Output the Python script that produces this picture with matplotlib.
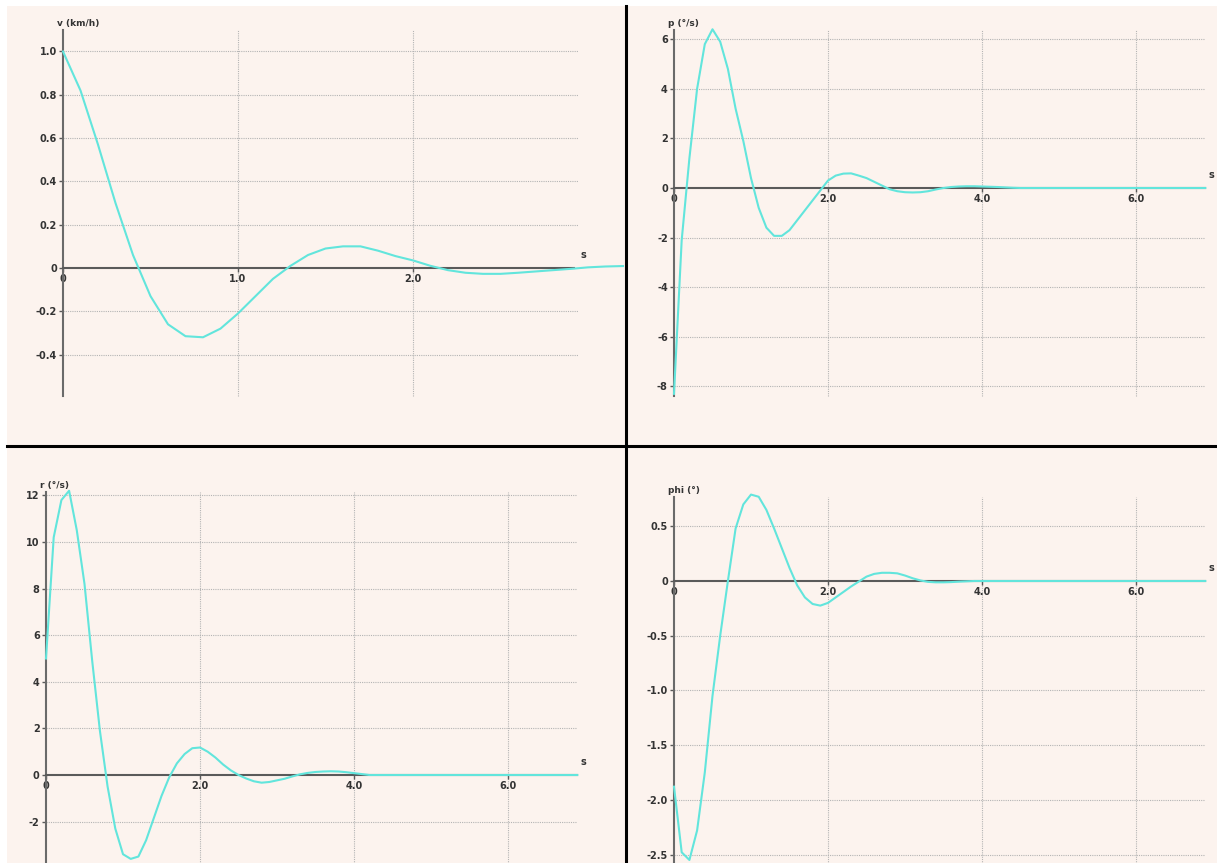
import numpy as np
import matplotlib.pyplot as plt
from matplotlib.lines import Line2D

W, H = 1217, 863

# lateral response, sampled every 0.1 s
t_v = [0.0, 0.1, 0.2, 0.3, 0.4, 0.5, 0.6, 0.7, 0.8, 0.9, 1.0, 1.1, 1.2, 1.3, 1.4, 1.5,
       1.6, 1.7, 1.8, 1.9, 2.0, 2.1, 2.2, 2.3, 2.4, 2.5, 2.6, 2.7, 2.8, 2.9, 3.0, 3.1, 3.2]
v = [1.0, 0.82, 0.57, 0.30, 0.06, -0.13, -0.26, -0.315, -0.32, -0.28, -0.21, -0.13, -0.05,
     0.01, 0.06, 0.09, 0.10, 0.10, 0.08, 0.055, 0.035, 0.01, -0.01, -0.022, -0.027, -0.027,
     -0.022, -0.016, -0.01, -0.004, 0.003, 0.007, 0.009]

t = [round(0.1 * i, 1) for i in range(70)]

p = [-8.3, -2.1, 1.2, 4.0, 5.8, 6.4, 5.9, 4.8, 3.2, 1.9,
     0.4, -0.8, -1.6, -1.93, -1.93, -1.7, -1.3, -0.9, -0.5, -0.1,
     0.3, 0.5, 0.58, 0.59, 0.5, 0.4, 0.25, 0.1, -0.05, -0.13,
     -0.17, -0.18, -0.17, -0.13, -0.06, 0.0, 0.04, 0.06, 0.07, 0.07,
     0.06, 0.05, 0.04, 0.025, 0.01, 0.0, 0.0, 0.0, 0.0, 0.0,
     0.0, 0.0, 0.0, 0.0, 0.0, 0.0, 0.0, 0.0, 0.0, 0.0,
     0.0, 0.0, 0.0, 0.0, 0.0, 0.0, 0.0, 0.0, 0.0, 0.0]

r = [5.0, 10.2, 11.8, 12.2, 10.5, 8.2, 4.9, 1.9, -0.5, -2.3,
     -3.4, -3.6, -3.5, -2.8, -1.85, -0.9, -0.1, 0.5, 0.9, 1.15,
     1.18, 1.0, 0.75, 0.45, 0.2, 0.0, -0.15, -0.27, -0.33, -0.3,
     -0.23, -0.16, -0.06, 0.03, 0.09, 0.13, 0.15, 0.16, 0.15, 0.12,
     0.08, 0.04, 0.0, 0.0, 0.0, 0.0, 0.0, 0.0, 0.0, 0.0,
     0.0, 0.0, 0.0, 0.0, 0.0, 0.0, 0.0, 0.0, 0.0, 0.0,
     0.0, 0.0, 0.0, 0.0, 0.0, 0.0, 0.0, 0.0, 0.0, 0.0]

phi = [-1.88, -2.48, -2.55, -2.28, -1.75, -1.05, -0.5, 0.0, 0.48, 0.7,
       0.79, 0.77, 0.65, 0.48, 0.3, 0.12, -0.04, -0.15, -0.21, -0.225,
       -0.2, -0.15, -0.1, -0.05, -0.005, 0.04, 0.065, 0.075, 0.075, 0.07,
       0.05, 0.025, 0.005, -0.008, -0.012, -0.012, -0.01, -0.006, -0.003, 0.0,
       0.0, 0.0, 0.0, 0.0, 0.0, 0.0, 0.0, 0.0, 0.0, 0.0,
       0.0, 0.0, 0.0, 0.0, 0.0, 0.0, 0.0, 0.0, 0.0, 0.0,
       0.0, 0.0, 0.0, 0.0, 0.0, 0.0, 0.0, 0.0, 0.0, 0.0]

v_yticks = [-0.4, -0.2, 0.0, 0.2, 0.4, 0.6, 0.8, 1.0]
v_ylabels = ['-0.4', '-0.2', '0', '0.2', '0.4', '0.6', '0.8', '1.0']
v_xticks = [0.0, 1.0, 2.0]
v_xlabels = ['0', '1.0', '2.0']

p_yticks = [-8, -6, -4, -2, 0, 2, 4, 6]
p_ylabels = ['-8', '-6', '-4', '-2', '0', '2', '4', '6']
r_yticks = [-2, 0, 2, 4, 6, 8, 10, 12]
r_ylabels = ['-2', '0', '2', '4', '6', '8', '10', '12']
phi_yticks = [-2.5, -2.0, -1.5, -1.0, -0.5, 0.0, 0.5]
phi_ylabels = ['-2.5', '-2.0', '-1.5', '-1.0', '-0.5', '0', '0.5']
long_xticks = [0.0, 2.0, 4.0, 6.0]
long_xlabels = ['0', '2.0', '4.0', '6.0']

BG = '#fcf3ee'
CURVE = '#62e5dc'
AXIS = '#5a5a5a'
GRID = '#b4b4b4'
TXT = '#333333'


def panel(fig, box, origin, scale, xt, xl, yt, yl, xspan, yspan, gridx, name, tt, yy):
    px0, py0, px1, py1 = box
    ox, oy = origin
    sx, sy = scale
    ax = fig.add_axes([px0 / W, 1 - py1 / H, (px1 - px0) / W, (py1 - py0) / H])
    ax.set_xlim((px0 - ox) / sx, (px1 - ox) / sx)
    ax.set_ylim((oy - py1) / sy, (oy - py0) / sy)
    ax.set_facecolor(BG)
    for s in ['top', 'right']:
        ax.spines[s].set_visible(False)
    ax.spines['left'].set_position(('data', 0))
    ax.spines['bottom'].set_position(('data', 0))
    ax.spines['left'].set_bounds(*yspan)
    ax.spines['bottom'].set_bounds(*xspan)
    ax.spines['left'].set_color('#6a6a6a')
    ax.spines['bottom'].set_color(AXIS)
    for s in ['left', 'bottom']:
        ax.spines[s].set_linewidth(1.5)
    ax.set_xticks(xt, labels=xl)
    ax.set_yticks(yt, labels=yl)
    ax.tick_params(direction='out', length=3, width=1, color=AXIS, pad=1.5,
                   labelsize=7, labelcolor=TXT)
    for lab in ax.get_xticklabels() + ax.get_yticklabels():
        lab.set_fontweight('bold')

    # dotted grid, bounded by the axis extents
    ax.hlines([y for y in yt if y != 0], 0, gridx, colors=GRID,
              linestyles=(0, (1, 1)), linewidth=0.8, zorder=1)
    ax.vlines([x for x in xt if x != 0], yspan[0], yspan[1], colors=GRID,
              linestyles=(0, (1, 1)), linewidth=0.8, zorder=1)

    ax.plot(tt, yy, color=CURVE, linewidth=1.5, zorder=3)

    ax.text(-6 / sx, yspan[1] + 2 / sy, name, ha='left', va='bottom',
            fontsize=6.5, fontweight='bold', color=TXT)
    ax.text(gridx + 6 / sx, 13 / sy, 's', ha='center', va='center',
            fontsize=7, fontweight='bold', color=TXT)
    return ax


fig = plt.figure(figsize=(W / 100, H / 100), dpi=100)
fig.patch.set_facecolor('white')

panel(fig, (7, 6, 626, 446), (63, 268), (175, 216.5), v_xticks, v_xlabels,
      v_yticks, v_ylabels, (0, 2.92), (-0.59, 1.10), 2.94, 'v (km/h)', t_v, v)
panel(fig, (626, 6, 1217, 446), (674, 188), (77, 24.8), long_xticks, long_xlabels,
      p_yticks, p_ylabels, (0, 6.9), (-8.4, 6.36), 6.9, 'p (°/s)', t, p)
panel(fig, (7, 446, 626, 863), (46, 775), (77, 23.3), long_xticks, long_xlabels,
      r_yticks, r_ylabels, (0, 6.9), (-3.8, 12.15), 6.9, 'r (°/s)', t, r)
panel(fig, (626, 446, 1217, 863), (674, 581), (77, 109.4), long_xticks, long_xlabels,
      phi_yticks, phi_ylabels, (0, 6.9), (-2.6, 0.77), 6.9, 'phi (°)', t, phi)

# black separators between the four views
fig.add_artist(Line2D([626 / W, 626 / W], [0, 1 - 6 / H], color='black',
                      linewidth=2.2, transform=fig.transFigure))
fig.add_artist(Line2D([7 / W, 1], [1 - 446 / H, 1 - 446 / H], color='black',
                      linewidth=2.2, transform=fig.transFigure))

fig.savefig('out.png', dpi=100)
